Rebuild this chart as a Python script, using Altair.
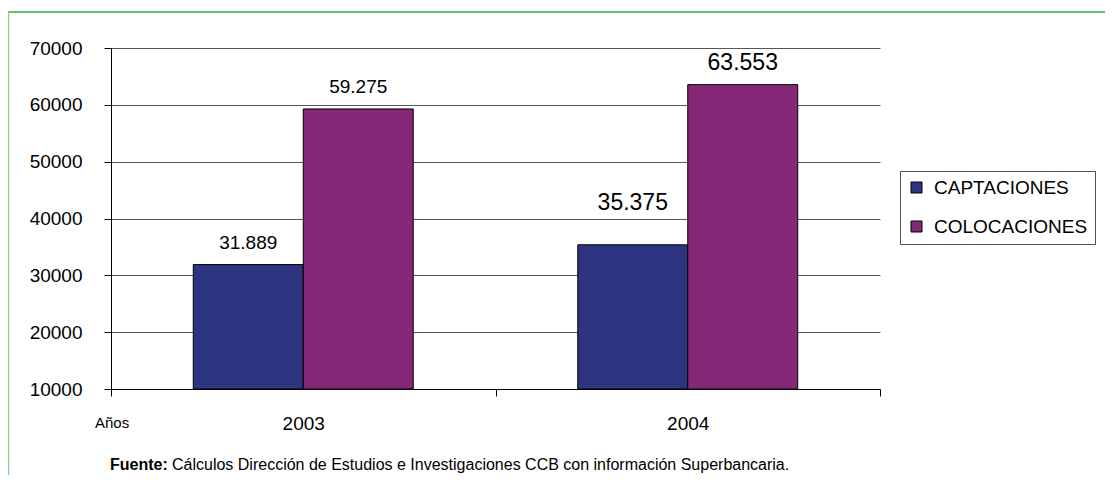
import altair as alt
import pandas as pd

years = ["2003", "2004"]
series = ["CAPTACIONES", "COLOCACIONES"]
captaciones = [31889, 35375]
colocaciones = [59275, 63553]
y_ticks = [10000, 20000, 30000, 40000, 50000, 60000, 70000]
colors = ["#2E3580", "#862878"]

rows = []
for i, yr in enumerate(years):
    rows.append({"anio": yr, "serie": series[0], "valor": captaciones[i]})
    rows.append({"anio": yr, "serie": series[1], "valor": colocaciones[i]})
df = pd.DataFrame(rows)

FONT = "Liberation Sans"
W, H = 769, 341

x_enc = alt.X("anio:N", title=None, sort=years,
              scale=alt.Scale(paddingInner=0, paddingOuter=0),
              axis=alt.Axis(labelAngle=0, labelFontSize=19, labelFont=FONT,
                            labelColor="black", labelPadding=18,
                            tickBand="extent", tickSize=7, tickColor="black",
                            domainColor="black", grid=False))
xoff = alt.XOffset("serie:N", sort=series,
                   scale=alt.Scale(paddingInner=0, paddingOuter=0.748))
y_scale = alt.Scale(domain=[10000, 70000], nice=False, zero=False)

bars = alt.Chart(df).mark_bar(stroke="black", strokeWidth=1).encode(
    x=x_enc,
    xOffset=xoff,
    y=alt.Y("valor:Q", title=None, scale=y_scale,
            axis=alt.Axis(values=y_ticks, format="d", labelFontSize=19,
                          labelFont=FONT, labelColor="black", labelPadding=22,
                          tickSize=7, tickColor="black", domainColor="black",
                          grid=True, gridColor="#555555", gridWidth=1)),
    y2=alt.datum(10000),
    color=alt.Color("serie:N", sort=series, title=None,
                    scale=alt.Scale(domain=series, range=colors),
                    legend=alt.Legend(orient="none", legendX=789, legendY=123,
                                      symbolType="square", symbolSize=121,
                                      symbolStrokeColor="black", symbolStrokeWidth=1,
                                      labelFont=FONT, labelFontSize=19,
                                      labelColor="black", labelOffset=8,
                                      rowPadding=19, padding=7,
                                      strokeColor="#555555")),
)

def label_layer(filter_expr, size, dy):
    return alt.Chart(df).transform_filter(filter_expr).transform_calculate(
        lab="replace(format(datum.valor, ','), ',', '.')"
    ).mark_text(font=FONT, fontSize=size, color="black", dy=dy,
                baseline="alphabetic").encode(
        x=alt.X("anio:N", sort=years),
        xOffset=alt.XOffset("serie:N", sort=series),
        y=alt.Y("valor:Q", scale=y_scale),
        text="lab:N",
    )

lab2003 = label_layer("datum.anio == '2003'", 19, -16)
lab2004a = label_layer("datum.anio == '2004' && datum.serie == 'CAPTACIONES'", 23, -35)
lab2004b = label_layer("datum.anio == '2004' && datum.serie == 'COLOCACIONES'", 23, -15)

anos = alt.Chart().mark_text(text="Años", font=FONT, fontSize=15, align="left",
                             baseline="middle", color="black").encode(
    x=alt.value(-16), y=alt.value(375))
fuente_b = alt.Chart().mark_text(text="Fuente:", font=FONT, fontSize=16,
                                 fontWeight="bold", align="left",
                                 baseline="middle", color="black").encode(
    x=alt.value(-1), y=alt.value(417))
fuente_r = alt.Chart().mark_text(
    text="Cálculos Dirección de Estudios e Investigaciones CCB con información Superbancaria.",
    font=FONT, fontSize=16, align="left", baseline="middle", color="black").encode(
    x=alt.value(61), y=alt.value(417))

top_border = alt.Chart().mark_rule(color="#3DAA3D", strokeWidth=1.5).encode(
    x=alt.value(-103), x2=alt.value(1000), y=alt.value(-36))
left_border = alt.Chart().mark_rule(color="#8FD08F", strokeWidth=1.5).encode(
    x=alt.value(-102.5), y=alt.value(-36), y2=alt.value(430))

chart = alt.layer(
    bars, lab2003, lab2004a, lab2004b, anos, fuente_b, fuente_r,
    top_border, left_border
).properties(
    width=W, height=H,
    autosize=alt.AutoSizeParams(type="none"),
    padding={"left": 103, "top": 40, "right": 225, "bottom": 86},
    background="white",
).configure_view(stroke="transparent")

chart.save("out.html", embed_options={"renderer": "svg", "actions": False})
